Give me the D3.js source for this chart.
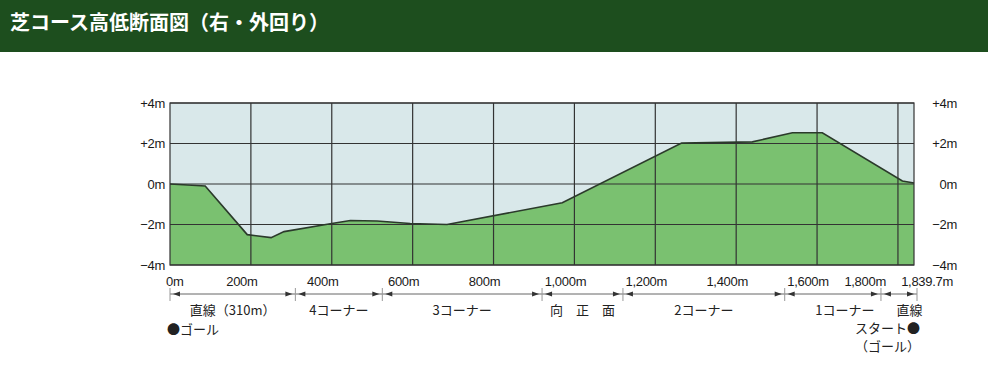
<!DOCTYPE html>
<html>
<head>
<meta charset="utf-8">
<script src="https://cdn.jsdelivr.net/npm/d3@7"></script>
<style>
  body { margin: 0; background: #fff; }
  text { font-family: "Noto Sans CJK JP", "Noto Sans", sans-serif; }
  text.num { font-family: "Liberation Sans Narrow", "Liberation Sans", Arial, sans-serif; font-size: 13px; letter-spacing: -0.3px; fill: #1a1a1a; }
</style>
</head>
<body>
<div class="chart"></div>
<script>
"use strict";

// course profile (metres from goal, height in metres)
const distances = [0, 87, 191, 250, 282, 400, 446, 512, 594, 685, 970, 1265, 1440, 1539, 1613, 1811, 1839.7];
const heights   = [0, -0.1, -2.5, -2.65, -2.35, -1.95, -1.8, -1.83, -1.95, -2.0, -0.93, 2.02, 2.08, 2.53, 2.53, 0.15, 0.05];

const xTicks = [0, 200, 400, 600, 800, 1000, 1200, 1400, 1600, 1800];
const xTickLabels = ["0m", "200m", "400m", "600m", "800m", "1,000m", "1,200m", "1,400m", "1,600m", "1,800m"];
const courseLength = 1839.7;
const endLabel = "1,839.7m";

const yTicks = [4, 2, 0, -2, -4];
const yTickLabels = ["+4m", "+2m", "0m", "−2m", "−4m"];

const sectionBounds = [0, 310, 525, 920, 1120, 1520, 1758, 1839.7];
const sectionNames = ["直線（310m）", "4コーナー", "3コーナー", "向　正　面", "2コーナー", "1コーナー", "直線"];

const title = "芝コース高低断面図（右・外回り）";

// appearance
const W = 988, H = 370;
const plot = {left: 170, right: 914, top: 103, bottom: 265};

let svg = d3.select(".chart")
    .append("svg")
    .attr("width", W)
    .attr("height", H);

// header bar
svg.append("rect")
    .attr("width", W).attr("height", 52)
    .attr("fill", "#1d4e1e");
svg.append("text")
    .attr("x", 10).attr("y", 30)
    .attr("fill", "#fff")
    .style("font-size", "20px")
    .style("font-weight", "bold")
    .text(title);

let x = d3.scaleLinear().domain([0, courseLength]).range([plot.left, plot.right]);
let y = d3.scaleLinear().domain([-4, 4]).range([plot.bottom, plot.top]);

let profile = distances.map(function(d, i) { return {d: d, h: heights[i]}; });

// sky
svg.append("rect")
    .attr("x", plot.left).attr("y", plot.top)
    .attr("width", plot.right - plot.left)
    .attr("height", plot.bottom - plot.top)
    .attr("fill", "#d9e8ea");

// ground
let area = d3.area()
    .x(function(p) { return x(p.d); })
    .y0(y(-4))
    .y1(function(p) { return y(p.h); });
svg.append("path")
    .datum(profile)
    .attr("d", area)
    .attr("fill", "#7ac170");

// grid
svg.append("g").selectAll("line")
    .data(xTicks.slice(1))
    .join("line")
    .attr("x1", function(d) { return x(d); })
    .attr("x2", function(d) { return x(d); })
    .attr("y1", plot.top).attr("y2", plot.bottom)
    .attr("stroke", "#333").attr("stroke-width", 1.2);
svg.append("g").selectAll("line")
    .data(yTicks)
    .join("line")
    .attr("x1", plot.left).attr("x2", plot.right)
    .attr("y1", function(d) { return y(d); })
    .attr("y2", function(d) { return y(d); })
    .attr("stroke", "#333").attr("stroke-width", 1.2);

// profile line
let line = d3.line()
    .x(function(p) { return x(p.d); })
    .y(function(p) { return y(p.h); });
svg.append("path")
    .datum(profile)
    .attr("d", line)
    .attr("fill", "none")
    .attr("stroke", "#2b3a2b")
    .attr("stroke-width", 1.6);

// frame
svg.append("rect")
    .attr("x", plot.left).attr("y", plot.top)
    .attr("width", plot.right - plot.left)
    .attr("height", plot.bottom - plot.top)
    .attr("fill", "none")
    .attr("stroke", "#333").attr("stroke-width", 1.2);

// y labels both sides
svg.append("g").selectAll("text")
    .data(yTicks)
    .join("text")
    .attr("class", "num")
    .attr("x", plot.left - 5)
    .attr("y", function(d) { return y(d) + 4.5; })
    .attr("text-anchor", "end")
    .text(function(d, i) { return yTickLabels[i]; });
svg.append("g").selectAll("text")
    .data(yTicks)
    .join("text")
    .attr("class", "num")
    .attr("x", 957)
    .attr("y", function(d) { return y(d) + 4.5; })
    .attr("text-anchor", "end")
    .text(function(d, i) { return yTickLabels[i]; });

// x labels (shifted a bit left like the original, last two squeezed)
svg.append("g").selectAll("text")
    .data(xTicks)
    .join("text")
    .attr("class", "num")
    .attr("x", function(d, i) {
        if (i === 0) return x(d) - 4;
        if (i === xTicks.length - 1) return x(d) - 12;
        return x(d) - 9;
    })
    .attr("y", 286)
    .attr("text-anchor", function(d, i) {
        if (i === 0) return "start";
        if (i === xTicks.length - 1) return "end";
        return "middle";
    })
    .text(function(d, i) { return xTickLabels[i]; });
svg.append("text")
    .attr("class", "num")
    .attr("x", x(courseLength) + 39).attr("y", 286)
    .attr("text-anchor", "end")
    .text(endLabel);

// section bracket
let bracketY = 294;
svg.append("line")
    .attr("x1", x(0)).attr("x2", x(courseLength) + 3)
    .attr("y1", bracketY).attr("y2", bracketY)
    .attr("stroke", "#666").attr("stroke-width", 1);
svg.append("g").selectAll("line")
    .data(sectionBounds)
    .join("line")
    .attr("x1", function(d, i) { return x(d) + (i === sectionBounds.length - 1 ? 3 : 0); })
    .attr("x2", function(d, i) { return x(d) + (i === sectionBounds.length - 1 ? 3 : 0); })
    .attr("y1", bracketY - 6).attr("y2", bracketY + 7)
    .attr("stroke", "#999").attr("stroke-width", 1);

let sections = sectionNames.map(function(name, i) {
    return {name: name, from: sectionBounds[i], to: sectionBounds[i + 1]};
});
let arrows = svg.append("g");
sections.forEach(function(s, i) {
    let a = x(s.from) + 3;
    let b = x(s.to) - 3 + (i === sections.length - 1 ? 3 : 0);
    arrows.append("path")
        .attr("d", "M" + a + "," + bracketY + "l7,-2.5v5z")
        .attr("fill", "#333");
    arrows.append("path")
        .attr("d", "M" + b + "," + bracketY + "l-7,-2.5v5z")
        .attr("fill", "#333");
});

svg.append("g").selectAll("text")
    .data(sections)
    .join("text")
    .attr("x", function(s, i) {
        let c = (x(s.from) + x(s.to)) / 2;
        if (i >= sections.length - 2) return c + 12;
        return c;
    })
    .attr("y", 315)
    .attr("text-anchor", "middle")
    .style("font-size", "13px")
    .attr("fill", "#222")
    .text(function(s) { return s.name; });

// goal / start marks
svg.append("text")
    .attr("x", x(0) - 3).attr("y", 334)
    .style("font-size", "13px").attr("fill", "#222")
    .text("●ゴール");
svg.append("text")
    .attr("x", x(courseLength) + 6).attr("y", 333)
    .attr("text-anchor", "end")
    .style("font-size", "13px").attr("fill", "#222")
    .text("スタート●");
svg.append("text")
    .attr("x", x(courseLength) + 6).attr("y", 351)
    .attr("text-anchor", "end")
    .style("font-size", "13px").attr("fill", "#222")
    .text("（ゴール）");
</script>
</body>
</html>
